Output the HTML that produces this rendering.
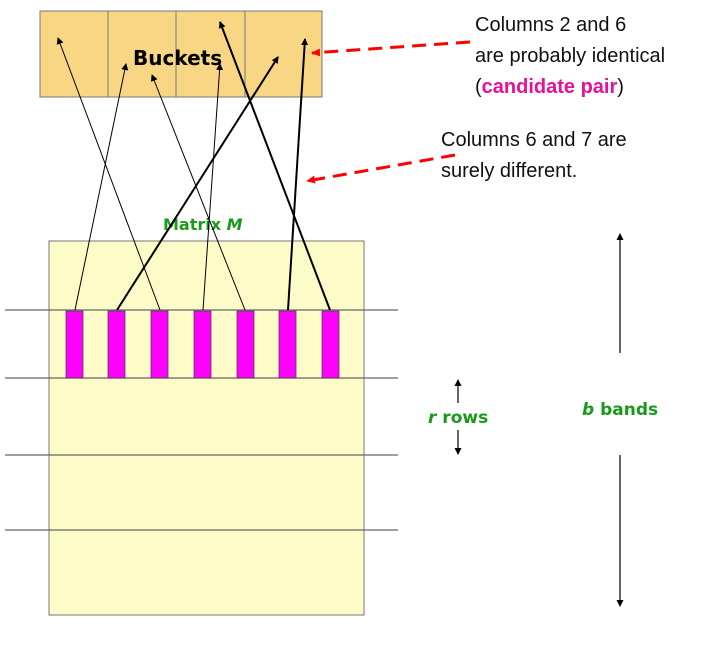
<!DOCTYPE html>
<html><head><style>
body{margin:0;background:#fff;width:727px;height:643px;overflow:hidden}
</style></head><body>
<svg width="727" height="643" xmlns="http://www.w3.org/2000/svg">
<defs>
<marker id="a" markerWidth="8" markerHeight="8" refX="6" refY="4" orient="auto" markerUnits="userSpaceOnUse"><path d="M0,0.5 L7,4 L0,7.5 z" fill="#000"/></marker>
<marker id="r" markerWidth="10" markerHeight="10" refX="8" refY="5" orient="auto" markerUnits="userSpaceOnUse"><path d="M0,1 L9,5 L0,9 z" fill="#f00"/></marker>
</defs>
<rect x="40" y="11" width="282" height="86" fill="#f8d683" stroke="#777" stroke-width="1"/>
<line x1="108" y1="11" x2="108" y2="97" stroke="#777"/>
<line x1="176" y1="11" x2="176" y2="97" stroke="#777"/>
<line x1="245" y1="11" x2="245" y2="97" stroke="#777"/>
<text x="133" y="65" font-family="DejaVu Sans, Liberation Sans, sans-serif" font-size="20" font-weight="bold" fill="#000">Buckets</text>
<rect x="49" y="241" width="315" height="374" fill="#fdfcc8" stroke="#777"/>
<g stroke="#666" stroke-width="1.2">
<line x1="5" y1="310" x2="398" y2="310"/>
<line x1="5" y1="378" x2="398" y2="378"/>
<line x1="5" y1="455" x2="398" y2="455"/>
<line x1="5" y1="530" x2="398" y2="530"/>
</g>
<g fill="#f0f" stroke="#444" stroke-width="0.8">
<rect x="66" y="311" width="17" height="67"/>
<rect x="108" y="311" width="17" height="67"/>
<rect x="151" y="311" width="17" height="67"/>
<rect x="194" y="311" width="17" height="67"/>
<rect x="237" y="311" width="17" height="67"/>
<rect x="279" y="311" width="17" height="67"/>
<rect x="322" y="311" width="17" height="67"/>
</g>
<text x="163" y="230" font-family="DejaVu Sans, Liberation Sans, sans-serif" font-size="16" font-weight="bold" fill="#1a9a1a">Matrix <tspan font-style="italic">M</tspan></text>
<g stroke="#000" fill="none">
<line x1="75" y1="310" x2="126" y2="64" stroke-width="1" marker-end="url(#a)"/>
<line x1="117" y1="310" x2="278" y2="57" stroke-width="2" marker-end="url(#a)"/>
<line x1="160" y1="310" x2="58" y2="38" stroke-width="1" marker-end="url(#a)"/>
<line x1="203" y1="310" x2="220" y2="64" stroke-width="1" marker-end="url(#a)"/>
<line x1="245" y1="310" x2="152" y2="75" stroke-width="1" marker-end="url(#a)"/>
<line x1="288" y1="310" x2="305" y2="39" stroke-width="2" marker-end="url(#a)"/>
<line x1="330" y1="310" x2="220" y2="22" stroke-width="2" marker-end="url(#a)"/>
</g>
<line x1="470" y1="42" x2="312" y2="53" stroke="#f00" stroke-width="3" stroke-dasharray="14,8" marker-end="url(#r)"/>
<line x1="455" y1="155" x2="307" y2="181" stroke="#f00" stroke-width="3" stroke-dasharray="14,8" marker-end="url(#r)"/>
<g font-family="Liberation Sans, sans-serif" font-size="20" fill="#111">
<text x="475" y="31">Columns 2 and 6</text>
<text x="475" y="62">are probably identical</text>
<text x="475" y="93">(<tspan fill="#e8109a" font-weight="bold">candidate pair</tspan>)</text>
<text x="441" y="146">Columns 6 and 7 are</text>
<text x="441" y="177">surely different.</text>
</g>
<g stroke="#000" stroke-width="1.2">
<line x1="458" y1="403" x2="458" y2="380" marker-end="url(#a)"/>
<line x1="458" y1="430" x2="458" y2="454" marker-end="url(#a)"/>
<line x1="620" y1="353" x2="620" y2="234" marker-end="url(#a)"/>
<line x1="620" y1="455" x2="620" y2="606" marker-end="url(#a)"/>
</g>
<g font-family="DejaVu Sans, Liberation Sans, sans-serif" font-size="17" font-weight="bold" fill="#1a9a1a">
<text x="428" y="423"><tspan font-style="italic">r</tspan> rows</text>
<text x="582" y="415"><tspan font-style="italic">b</tspan> bands</text>
</g>
</svg>
</body></html>
